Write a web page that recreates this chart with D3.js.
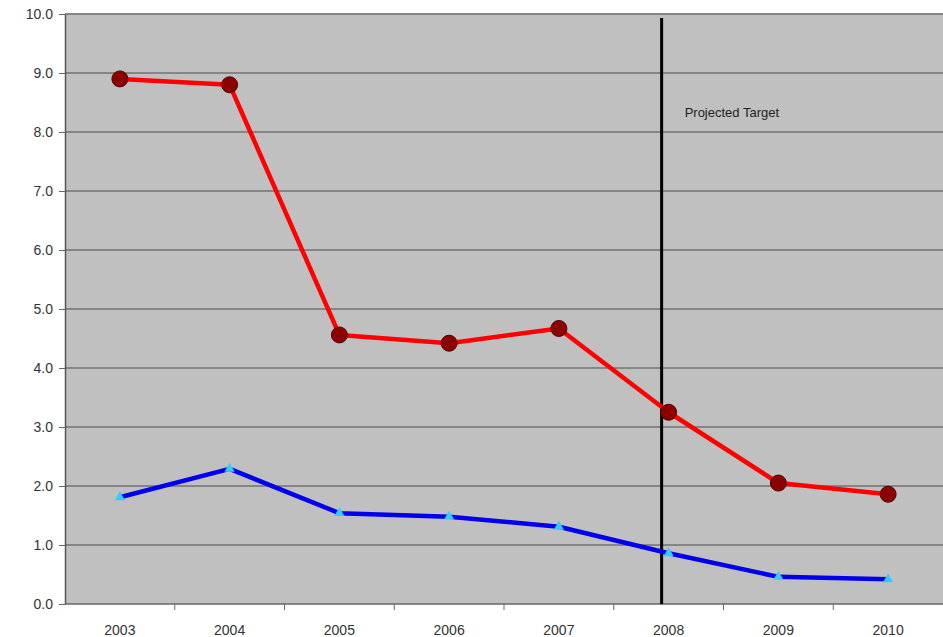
<!DOCTYPE html>
<html>
<head>
<meta charset="utf-8">
<script src="https://cdn.jsdelivr.net/npm/d3@7"></script>
<style>
  body { margin: 0; background: #fff; }
  text { font-family: "Liberation Sans", Arial, sans-serif; }
</style>
</head>
<body>
<div id="chart-area"></div>
<script>
var years = ["2003", "2004", "2005", "2006", "2007", "2008", "2009", "2010"];
var redValues = [8.9, 8.8, 4.56, 4.42, 4.67, 3.25, 2.05, 1.86];
var blueValues = [1.81, 2.29, 1.54, 1.48, 1.31, 0.86, 0.46, 0.42];
var yTicks = [0, 1, 2, 3, 4, 5, 6, 7, 8, 9, 10];
var targetYear = "2008";
var targetLabel = "Projected Target";

var width = 943, height = 637;
var margin = {top: 14, right: 0, bottom: 33, left: 65};
var innerW = width - margin.left - margin.right;
var innerH = height - margin.top - margin.bottom;

var svg = d3.select("#chart-area").append("svg")
    .attr("width", width)
    .attr("height", height);

var group = svg.append("g")
    .attr("transform", "translate(" + margin.left + "," + margin.top + ")");

var x = d3.scaleBand()
    .domain(years)
    .range([0, innerW]);

var y = d3.scaleLinear()
    .domain([0, 10])
    .range([innerH, 0]);

// plot background
group.append("rect")
    .attr("width", innerW)
    .attr("height", innerH)
    .attr("fill", "#c0c0c0");

// gridlines
group.selectAll(".grid").data(yTicks.slice(1)).enter()
    .append("line")
        .attr("x1", 0)
        .attr("x2", innerW)
        .attr("y1", d => y(d))
        .attr("y2", d => y(d))
        .attr("stroke", "#858585")
        .attr("stroke-width", 2);

// y axis
var yAxis = group.append("g")
    .call(d3.axisLeft(y).tickValues(yTicks).tickFormat(d3.format(".1f")).tickSizeInner(6).tickSizeOuter(0).tickPadding(6));
yAxis.select(".domain").attr("stroke", "#555").attr("stroke-width", 1.5);
yAxis.selectAll(".tick line").attr("stroke", "#666");
yAxis.selectAll("text").attr("font-size", 14).attr("fill", "#333");

// x axis: ticks between categories
var xAxisG = group.append("g")
    .attr("transform", "translate(0," + innerH + ")");
xAxisG.append("line")
    .attr("x1", 0).attr("x2", innerW)
    .attr("stroke", "#666").attr("stroke-width", 1.5);
xAxisG.selectAll(".xtick").data(years.slice(1)).enter()
    .append("line")
        .attr("x1", d => x(d))
        .attr("x2", d => x(d))
        .attr("y1", 0).attr("y2", 6)
        .attr("stroke", "#666");
xAxisG.selectAll(".xlabel").data(years).enter()
    .append("text")
        .attr("x", d => x(d) + x.bandwidth() / 2)
        .attr("y", 31)
        .attr("text-anchor", "middle")
        .attr("font-size", 14)
        .attr("fill", "#333")
        .text(d => d);

// projected target line
var tx = x(targetYear) + x.bandwidth() / 2 - 7;
group.append("line")
    .attr("x1", tx).attr("x2", tx)
    .attr("y1", 4).attr("y2", innerH)
    .attr("stroke", "#000")
    .attr("stroke-width", 3);
group.append("text")
    .attr("x", tx + 23)
    .attr("y", y(8.25))
    .attr("font-size", 13)
    .attr("fill", "#222")
    .text(targetLabel);

var cx = (d, i) => x(years[i]) + x.bandwidth() / 2;
var line = d3.line().x(cx).y(d => y(d));

// blue series
group.append("path")
    .datum(blueValues)
    .attr("d", line)
    .attr("fill", "none")
    .attr("stroke", "#0000ee")
    .attr("stroke-width", 4.5)
    .attr("stroke-linejoin", "round");
group.selectAll(".bm").data(blueValues).enter()
    .append("path")
        .attr("d", d3.symbol().type(d3.symbolTriangle).size(45))
        .attr("transform", (d, i) => "translate(" + cx(d, i) + "," + y(d) + ")")
        .attr("fill", "#33ccff");

// red series
group.append("path")
    .datum(redValues)
    .attr("d", line)
    .attr("fill", "none")
    .attr("stroke", "#ff0000")
    .attr("stroke-width", 4.5)
    .attr("stroke-linejoin", "round");
group.selectAll(".rm").data(redValues).enter()
    .append("circle")
        .attr("cx", cx)
        .attr("cy", d => y(d))
        .attr("r", 8)
        .attr("fill", "#8b0000")
        .attr("stroke", "#5a0000")
        .attr("stroke-width", 1);
</script>
</body>
</html>
